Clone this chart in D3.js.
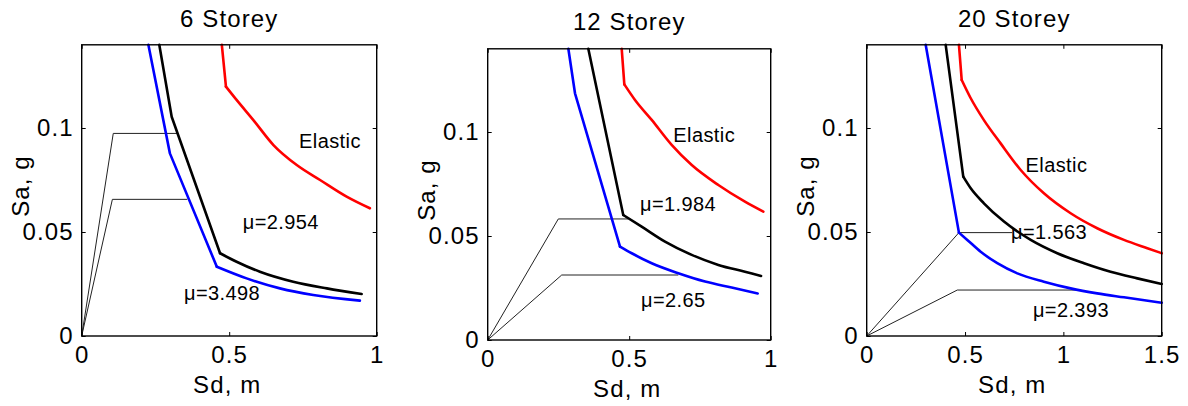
<!DOCTYPE html>
<html>
<head>
<meta charset="utf-8">
<script src="https://cdn.jsdelivr.net/npm/d3@7"></script>
<style>
  body { margin: 0; background: #fff; }
  svg { display: block; font-family: 'Liberation Sans', Arial, Helvetica, sans-serif; }
  .tick text { font-size: 24px; letter-spacing: 1.1px; fill: #000; }
  .title, .axis-label { font-size: 24px; letter-spacing: 1.1px; fill: #000; }
  .note { font-size: 20px; letter-spacing: 0.4px; fill: #000; }
</style>
</head>
<body>
<svg id="chart" width="1188" height="406"></svg>
<script>
// titles and axis extents
const titles = ['6 Storey', '12 Storey', '20 Storey'];
const xMax = [1, 1, 1.5];
const yMax = 0.14;
const xTicks = [[0, 0.5, 1], [0, 0.5, 1], [0, 0.5, 1, 1.5]];
const yTicks = [0, 0.05, 0.1];

// [Sd (m), Sa (g)]
const elastic6 = [[0.475, 0.14], [0.489, 0.1199], [0.525, 0.1135], [0.582, 0.1038], [0.65, 0.0918],
  [0.729, 0.0822], [0.808, 0.075], [0.898, 0.067], [0.977, 0.0614]];
const upper6 = [[0.263, 0.14], [0.305, 0.1054], [0.469, 0.0398], [0.525, 0.0357], [0.604, 0.0309],
  [0.717, 0.0261], [0.831, 0.0229], [0.949, 0.0202]];
const lower6 = [[0.226, 0.14], [0.299, 0.0878], [0.458, 0.0333], [0.559, 0.0277], [0.672, 0.0229],
  [0.785, 0.0197], [0.943, 0.017]];
const cap6a = [[0, 0], [0.107, 0.0974], [0.3275, 0.0974]];
const cap6b = [[0, 0], [0.104, 0.0657], [0.358, 0.0657]];

const elastic12 = [[0.4735, 0.14], [0.4828, 0.1229], [0.5205, 0.1154], [0.5795, 0.1058], [0.65, 0.0938],
  [0.721, 0.0841], [0.815, 0.0745], [0.909, 0.0665], [0.974, 0.0617]];
const upper12 = [[0.3555, 0.14], [0.479, 0.0601], [0.544, 0.0545], [0.6265, 0.0473], [0.721, 0.0409],
  [0.815, 0.0361], [0.909, 0.0328], [0.966, 0.0308]];
const lower12 = [[0.285, 0.14], [0.3085, 0.1186], [0.4675, 0.0449], [0.509, 0.0417], [0.5795, 0.0369],
  [0.6735, 0.0321], [0.768, 0.0281], [0.862, 0.0252], [0.954, 0.0224]];
const cap12a = [[0, 0], [0.2495, 0.0582], [0.497, 0.0582]];
const cap12b = [[0, 0], [0.2615, 0.03125], [0.6735, 0.03125]];

const elastic20 = [[0.469, 0.14], [0.483, 0.1231], [0.529, 0.1143], [0.596, 0.1038], [0.681, 0.0926],
  [0.783, 0.0798], [0.901, 0.0686], [1.037, 0.059], [1.172, 0.0518], [1.308, 0.0462], [1.427, 0.0422],
  [1.5, 0.0398]];
const upper20 = [[0.4016, 0.14], [0.491, 0.0766], [0.529, 0.071], [0.596, 0.0638], [0.698, 0.055],
  [0.834, 0.0462], [0.969, 0.0398], [1.105, 0.035], [1.24, 0.0309], [1.376, 0.0277], [1.5, 0.025]];
const lower20 = [[0.2999, 0.14], [0.469, 0.0497], [0.5115, 0.0462], [0.5795, 0.0405], [0.664, 0.035],
  [0.766, 0.0301], [0.901, 0.0261], [1.037, 0.0229], [1.172, 0.0205], [1.308, 0.0186], [1.5, 0.016]];
const cap20a = [[0, 0], [0.469, 0.0497], [0.74, 0.0497]];
const cap20b = [[0, 0], [0.4607, 0.0221], [1.071, 0.0221]];

// index of the last corner point in each curve (elastic, lower, upper), the rest is a smooth tail
const corners = [[1, 2, 2], [1, 2, 1], [1, 1, 1]];

// text notes, anchored in data units [Sd, Sa]
const notes6 = [['Elastic', 0.737, 0.0904], ['\u03bc=2.954', 0.546, 0.0514], ['\u03bc=3.498', 0.347, 0.0173]];
const notes12 = [['Elastic', 0.656, 0.0953], ['\u03bc=1.984', 0.538, 0.0622], ['\u03bc=2.65', 0.542, 0.016]];
const notes20 = [['Elastic', 0.808, 0.079], ['\u03bc=1.563', 0.734, 0.0465], ['\u03bc=2.393', 0.845, 0.0093]];

const panels = [
  { elastic: elastic6, upper: upper6, lower: lower6, caps: [cap6a, cap6b], notes: notes6 },
  { elastic: elastic12, upper: upper12, lower: lower12, caps: [cap12a, cap12b], notes: notes12 },
  { elastic: elastic20, upper: upper20, lower: lower20, caps: [cap20a, cap20b], notes: notes20 },
];

// layout of each axes box (pixels)
const boxes = [
  { left: 81.7, right: 376.7, bottom: 336, titleY: 27 },
  { left: 487.7, right: 770.7, bottom: 340, titleY: 30 },
  { left: 866.7, right: 1161.7, bottom: 336, titleY: 27 },
];
const PX_PER_G = 2080;
const TICK = 4;

const $svg = d3.select('#chart');

panels.forEach((p, i) => {
  const b = boxes[i];
  const top = b.bottom - yMax * PX_PER_G;
  const scaleX = d3.scaleLinear().domain([0, xMax[i]]).range([b.left, b.right]);
  const scaleY = d3.scaleLinear().domain([0, yMax]).range([b.bottom, top]);
  const line = d3.line().x((d) => scaleX(d[0])).y((d) => scaleY(d[1]));
  const smooth = d3.line().x((d) => scaleX(d[0])).y((d) => scaleY(d[1])).curve(d3.curveMonotoneX);

  const $g = $svg.append('g').attr('class', `panel panel-${i}`);

  // thin bilinear capacity lines
  $g.selectAll('.cap')
    .data(p.caps)
    .join('path')
    .attr('class', 'cap')
    .attr('d', line)
    .attr('fill', 'none')
    .attr('stroke', '#222')
    .attr('stroke-width', 1);

  const series = [
    { d: p.elastic, c: '#ff0000', k: corners[i][0] },
    { d: p.lower, c: '#0000ff', k: corners[i][1] },
    { d: p.upper, c: '#000000', k: corners[i][2] },
  ];
  // straight head up to the last corner, then a smooth tail
  const pieces = [];
  series.forEach((s) => {
    pieces.push({ path: line(s.d.slice(0, s.k + 1)), c: s.c });
    pieces.push({ path: smooth(s.d.slice(s.k)), c: s.c });
  });
  $g.selectAll('.curve')
    .data(pieces)
    .join('path')
    .attr('class', 'curve')
    .attr('d', (s) => s.path)
    .attr('fill', 'none')
    .attr('stroke', (s) => s.c)
    .attr('stroke-width', 2.6)
    .attr('stroke-linejoin', 'round')
    .attr('stroke-linecap', 'round');

  // axes, mirrored on all sides with inward ticks
  const fmt = (d) => (d === 0 ? '0' : String(+d.toFixed(2)));
  $g.append('g')
    .attr('transform', `translate(0,${b.bottom})`)
    .call(d3.axisBottom(scaleX).tickValues(xTicks[i]).tickSize(-TICK).tickPadding(10).tickFormat(fmt))
    .call((g) => g.select('.domain').remove())
    .call((g) => g.selectAll('.tick text').attr('dy', '0.71em').attr('font-family', null).attr('font-size', null));
  $g.append('g')
    .attr('transform', `translate(0,${top})`)
    .call(d3.axisTop(scaleX).tickValues(xTicks[i]).tickSize(-TICK).tickFormat(''))
    .call((g) => g.select('.domain').remove());
  $g.append('g')
    .attr('transform', `translate(${b.left},0)`)
    .call(d3.axisLeft(scaleY).tickValues(yTicks).tickSize(-TICK).tickPadding(8).tickFormat(fmt))
    .call((g) => g.select('.domain').remove())
    .call((g) => g.selectAll('.tick text').attr('font-family', null).attr('font-size', null));
  $g.append('g')
    .attr('transform', `translate(${b.right},0)`)
    .call(d3.axisRight(scaleY).tickValues(yTicks).tickSize(-TICK).tickFormat(''))
    .call((g) => g.select('.domain').remove());
  $g.selectAll('.tick line').attr('stroke', '#000').attr('stroke-width', 1);

  $g.append('rect')
    .attr('x', b.left)
    .attr('y', top)
    .attr('width', b.right - b.left)
    .attr('height', b.bottom - top)
    .attr('fill', 'none')
    .attr('stroke', '#000')
    .attr('stroke-width', 1.4);

  // notes
  $g.selectAll('.note')
    .data(p.notes)
    .join('text')
    .attr('class', 'note')
    .attr('x', (d) => scaleX(d[1]))
    .attr('y', (d) => scaleY(d[2]))
    .text((d) => d[0]);

  // title and axis labels
  const cx = (b.left + b.right) / 2;
  $g.append('text')
    .attr('class', 'title')
    .attr('x', cx)
    .attr('y', b.titleY)
    .attr('text-anchor', 'middle')
    .text(titles[i]);
  $g.append('text')
    .attr('class', 'axis-label')
    .attr('x', cx - 2)
    .attr('y', b.bottom + 57)
    .attr('text-anchor', 'middle')
    .text('Sd, m');
  $g.append('text')
    .attr('class', 'axis-label')
    .attr('transform', `translate(${b.left - 53},${b.bottom - 150}) rotate(-90)`)
    .attr('text-anchor', 'middle')
    .text('Sa, g');
});
</script>
</body>
</html>
